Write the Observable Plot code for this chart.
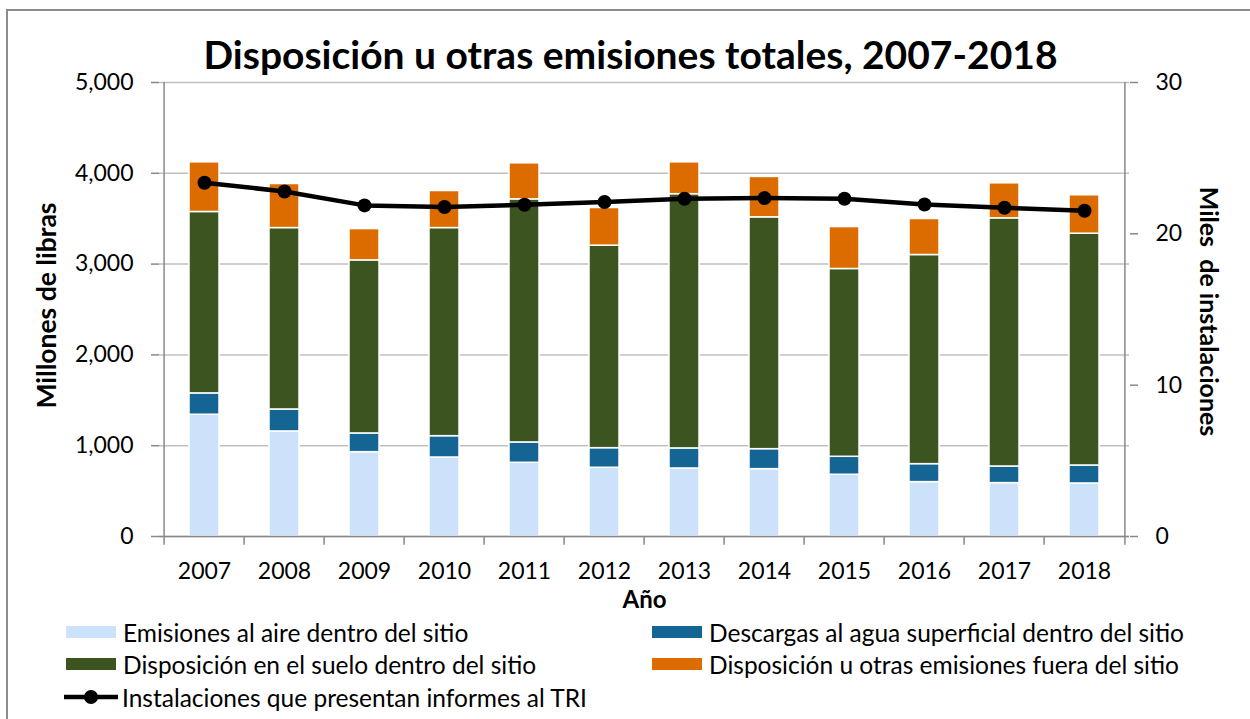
<!DOCTYPE html>
<html>
<head>
<meta charset="utf-8">
<script src="https://cdn.jsdelivr.net/npm/d3@7"></script>
<script src="https://cdn.jsdelivr.net/npm/@observablehq/plot@0.6"></script>
<style>
  html, body { margin: 0; padding: 0; background: #fff; overflow: hidden; }
  #wrap { position: relative; width: 1250px; height: 719px; font-family: Lato, "Open Sans", sans-serif; }
  #border { position: absolute; left: 6px; top: 9px; width: 1260px; height: 740px; border: 2px solid #8c8c8c; box-sizing: border-box; }
  #chart { position: absolute; left: 0; top: 0; }
  .leg { position: absolute; font-size: 24.5px; color: #000; display: flex; align-items: center; white-space: nowrap; }
  .sw { width: 50px; height: 12px; margin-right: 7px; }
</style>
</head>
<body>
<div id="wrap">
  <div id="border"></div>
  <div id="chart"></div>
</div>
<script>
const years = ["2007","2008","2009","2010","2011","2012","2013","2014","2015","2016","2017","2018"];
const seriesNames = [
  "Emisiones al aire dentro del sitio",
  "Descargas al agua superficial dentro del sitio",
  "Disposición en el suelo dentro del sitio",
  "Disposición u otras emisiones fuera del sitio"
];
const seriesColors = ["#cce1fa", "#156594", "#3b5420", "#dd6c00"];
const airValues   = [1341, 1157, 929, 870, 812, 757, 749, 742, 680, 599, 588, 584];
const waterValues = [235, 242, 206, 235, 224, 216, 221, 220, 198, 198, 183, 198];
const landValues  = [1998, 1998, 1906, 2292, 2677, 2230, 2800, 2553, 2068, 2303, 2733, 2553];
const offsiteValues = [547, 485, 345, 408, 397, 415, 351, 445, 462, 397, 386, 423];
const facilities = [23.38, 22.8, 21.88, 21.77, 21.92, 22.1, 22.32, 22.36, 22.32, 21.94, 21.72, 21.53];
const lineName = "Instalaciones que presentan informes al TRI";
const leftTicks = [0, 1000, 2000, 3000, 4000, 5000];
const rightTicks = [0, 10, 20, 30];
const leftMax = 5000, rightMax = 30;

const seriesValues = [airValues, waterValues, landValues, offsiteValues];
const barData = [];
years.forEach((y, i) => {
  seriesNames.forEach((s, j) => barData.push({year: y, series: s, value: seriesValues[j][i]}));
});
const lineData = years.map((y, i) => ({year: y, v: facilities[i] * leftMax / rightMax}));

const W = 1250, H = 719;
const mL = 159, mR = W - 1129, mT = 82, mB = H - 536;
const step = (W - mL - mR) / years.length;
const font = "Lato, 'Open Sans', sans-serif";
const axisGray = "#898989";
const tickLen = 95; // data units below zero (~8px)

const plot = Plot.plot({
  width: W, height: H,
  marginLeft: mL, marginRight: mR, marginTop: mT, marginBottom: mB,
  style: {fontFamily: font, fontSize: "23px", color: "#000", background: "transparent", overflow: "visible"},
  x: {domain: years, paddingInner: 0.63, paddingOuter: 0.315},
  y: {domain: [0, leftMax]},
  color: {domain: seriesNames, range: seriesColors},
  marks: [
    Plot.gridY(leftTicks, {stroke: "#c0c0c0", strokeOpacity: 1, strokeWidth: 1.5}),
    Plot.barY(barData, {x: "year", y: "value", fill: "series", stroke: "#fff", strokeWidth: 1.5}),
    // axis lines
    Plot.ruleY([0], {stroke: axisGray, strokeWidth: 1.5}),
    Plot.ruleX([years[0]], {x: d => d, dx: -step / 2, y1: 0, y2: leftMax, stroke: axisGray, strokeWidth: 1.5}),
    Plot.ruleX([years[years.length - 1]], {x: d => d, dx: step / 2, y1: 0, y2: leftMax, stroke: axisGray, strokeWidth: 1.5}),
    // x tick marks between categories
    Plot.ruleX(years, {x: d => d, dx: -step / 2, y1: 0, y2: -tickLen, stroke: axisGray, strokeWidth: 1.5}),
    Plot.ruleX([years[years.length - 1]], {x: d => d, dx: step / 2, y1: 0, y2: -tickLen, stroke: axisGray, strokeWidth: 1.5}),
    Plot.axisX({tickSize: 0, tickPadding: 26, label: null, fontSize: 23}),
    Plot.axisY(leftTicks, {anchor: "left", tickSize: 8, tickPadding: 18, stroke: axisGray, strokeWidth: 1.5, tickFormat: d3.format(","), label: null, fontSize: 23}),
    Plot.axisY(rightTicks.map(t => t * leftMax / rightMax), {anchor: "right", tickSize: 8, tickPadding: 18, stroke: axisGray, strokeWidth: 1.5, tickFormat: d => String(Math.round(d * rightMax / leftMax)), label: null, fontSize: 23}),
    Plot.line(lineData, {x: "year", y: "v", stroke: "#000", strokeWidth: 4.5}),
    Plot.dot(lineData, {x: "year", y: "v", r: 7, fill: "#000"}),
    // titles and axis labels
    Plot.text(["Disposición u otras emisiones totales, 2007-2018"], {frameAnchor: "top", dx: -14, dy: -26, lineAnchor: "middle", fontSize: 39, fontWeight: "bold"}),
    Plot.text(["Millones de libras"], {frameAnchor: "left", dx: -112, dy: -4, rotate: -90, textAnchor: "middle", lineAnchor: "middle", fontSize: 26.5, fontWeight: "bold"}),
    Plot.text(["Miles  de instalaciones"], {frameAnchor: "right", dx: 78, dy: 2, rotate: 90, textAnchor: "middle", lineAnchor: "middle", fontSize: 25, fontWeight: "bold"}),
    Plot.text(["Año"], {frameAnchor: "bottom", dy: 64, lineAnchor: "middle", fontSize: 24, fontWeight: "bold"})
  ]
});
document.getElementById("chart").appendChild(plot);

// legend
const wrap = document.getElementById("wrap");
const legPos = [
  {i: 0, x: 66, y: 632}, {i: 1, x: 652, y: 632},
  {i: 2, x: 66, y: 664}, {i: 3, x: 652, y: 664}
];
legPos.forEach(p => {
  const d = document.createElement("div");
  d.className = "leg";
  d.style.left = p.x + "px";
  d.style.top = (p.y - 15) + "px";
  d.style.height = "30px";
  const sw = document.createElement("div");
  sw.className = "sw";
  sw.style.background = seriesColors[p.i];
  d.appendChild(sw);
  const t = document.createElement("span");
  t.textContent = seriesNames[p.i];
  d.appendChild(t);
  wrap.appendChild(d);
});
{
  const d = document.createElement("div");
  d.className = "leg";
  d.style.left = "63px";
  d.style.top = (697 - 15) + "px";
  d.style.height = "30px";
  d.innerHTML = '<svg width="56" height="20" style="margin-right:3px"><line x1="1" y1="10" x2="55" y2="10" stroke="#000" stroke-width="4.5"/><circle cx="28" cy="10" r="7" fill="#000"/></svg>';
  const t = document.createElement("span");
  t.textContent = lineName;
  d.appendChild(t);
  wrap.appendChild(d);
}
</script>
</body>
</html>
